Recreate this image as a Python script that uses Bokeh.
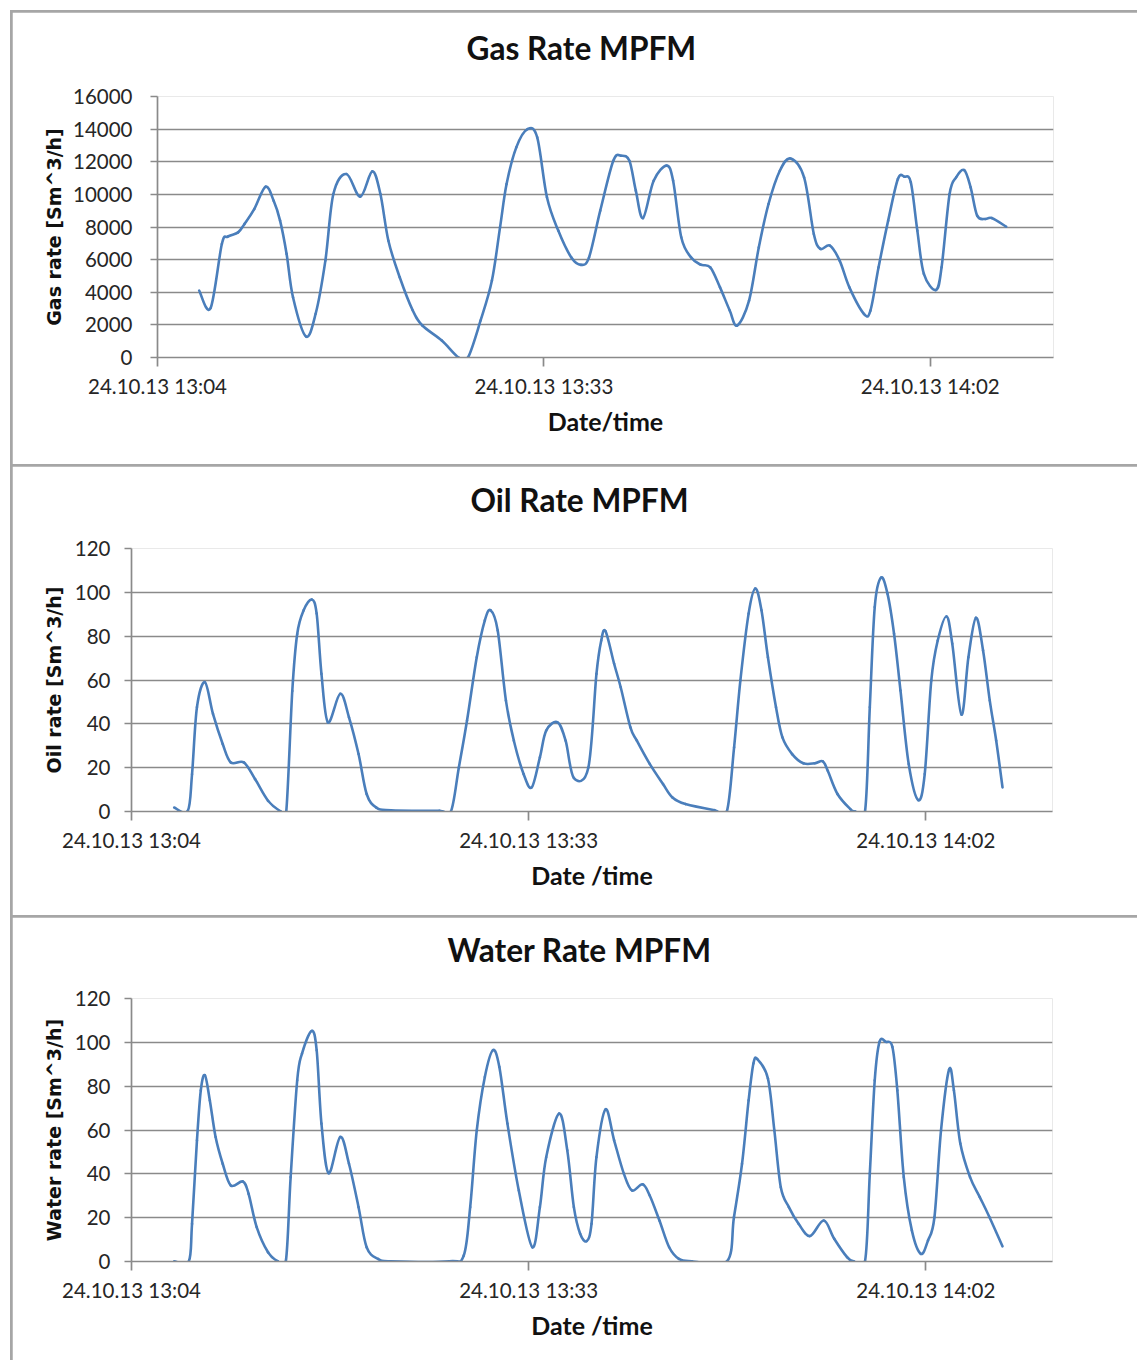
from bokeh.plotting import figure
from bokeh.layouts import column
from bokeh.models import Range1d, FixedTicker, Title
from bokeh.embed import file_html
from bokeh.resources import INLINE

# time axis: minutes after 24.10.13 13:04
x_ticks = [0, 29, 58]
x_tick_labels = ["24.10.13 13:04", "24.10.13 13:33", "24.10.13 14:02"]
x_end = 67.25

gas_t = [3.13, 3.98, 4.83, 5.27, 6.05, 6.53, 7.26, 8.11, 8.72, 9.2,
         9.69, 10.17, 11.14, 11.87, 12.6, 13.2, 14.18, 15.22, 16.12, 16.73,
         17.33, 18.18, 19.16, 19.88, 21.34, 22.6, 23.3, 24.25, 25.1, 25.71,
         26.2, 26.93, 27.77, 28.5, 29.23, 30.08, 31.05, 31.78, 32.39, 33.23,
         34.21, 34.81, 35.42, 35.9, 36.44, 37.24, 38.21, 38.7, 39.31, 40.04,
         40.77, 41.49, 42.22, 42.95, 43.5, 44.4, 45.13, 45.86, 46.71, 47.51,
         48.53, 49.26, 49.75, 50.47, 51.2, 51.93, 53.02, 53.51, 54.12, 54.84,
         55.57, 56.06, 56.54, 57.03, 57.52, 58.43, 58.85, 59.45, 59.94, 60.55,
         61.03, 61.52, 62.13, 62.61, 63.7]
gas_v = [4100, 3020, 6960, 7410, 7670, 8190, 9100, 10470, 9610, 8390,
         6350, 3690, 1290, 2680, 5940, 10020, 11250, 9860, 11410, 10020,
         7160, 4920, 2880, 1960, 1040, 0, 0, 2270, 4720, 7980,
         10630, 12880, 14000, 13490, 9820, 7780, 6140, 5680, 6140, 9000,
         12060, 12370, 12060, 10230, 8550, 10840, 11760, 10840, 7370, 6140,
         5690, 5530, 4300, 2880, 1960, 3490, 6750, 9410, 11450, 12200,
         11040, 7570, 6660, 6860, 5940, 4300, 2680, 2880, 5530, 8390,
         10940, 11080, 10740, 7780, 5130, 4140, 5530, 10020, 11040, 11490,
         10430, 8700, 8490, 8550, 8020]

oil_t = [3.12, 4.11, 4.42, 4.78, 5.36, 5.95, 6.66, 7.25, 8.2, 9.02,
         9.97, 10.91, 11.3, 11.74, 12.1, 12.57, 13.16, 13.52, 13.87, 14.34,
         15.24, 15.88, 16.58, 17.17, 17.88, 18.95, 22.49, 23.32, 23.9, 24.5,
         25.21, 25.8, 26.22, 26.74, 27.34, 27.92, 28.63, 29.22, 29.82, 30.28,
         31.11, 31.7, 32.3, 33.36, 33.95, 34.3, 34.61, 35.24, 35.72, 36.43,
         36.9, 37.84, 38.81, 39.5, 40.45, 42.58, 43.47, 44.0, 44.46, 45.06,
         45.55, 46.0, 46.47, 47.06, 47.53, 48.24, 49.06, 49.89, 50.48, 50.84,
         51.55, 52.49, 52.85, 53.56, 53.91, 54.27, 54.73, 55.2, 55.68, 56.15,
         56.75, 57.45, 57.92, 58.4, 58.87, 59.51, 59.93, 60.6, 61.11, 61.66,
         62.18, 62.67, 63.14, 63.6]
oil_v = [1.8, 0.3, 17, 47.6, 59, 44.5, 30.8, 22.4, 22.4, 14.8,
         4.9, 0, 0, 55, 81, 91.8, 96.7, 90.3, 62.8, 40.7,
         53.7, 43, 26.2, 8, 1.8, 0.6, 0.3, 0, 20, 41.5,
         70.4, 87.2, 91.8, 82.6, 50.6, 32.3, 17.1, 11, 24.7, 36.9,
         40.7, 32.3, 15.3, 20.1, 62.8, 78, 82.3, 67.4, 56.7, 38.4,
         32.3, 21.7, 12.5, 6.4, 3.4, 0.6, 0, 29.3, 59.8, 90.3,
         101.7, 91.8, 70.4, 47.6, 33.8, 26.2, 22, 22, 22.9, 18.6,
         8, 1.1, 0, 0, 47.6, 93.3, 106.7, 99.4, 81.1, 55.2,
         21.7, 5.2, 17.1, 59.8, 78, 89, 76.6, 44.2, 70.4, 88.4,
         73.5, 50.6, 32.3, 11]

water_t = [3.12, 4.18, 4.42, 4.78, 5.06, 5.36, 5.72, 6.14, 6.66, 7.25,
           8.13, 8.55, 9.14, 9.97, 10.68, 11.27, 11.62, 12.1, 12.45, 13.16,
           13.52, 13.87, 14.39, 15.24, 15.88, 16.58, 17.17, 18.0, 18.95, 23.2,
           24.26, 24.73, 25.21, 25.8, 26.39, 26.86, 27.45, 28.28, 29.27, 29.82,
           30.28, 31.23, 31.82, 32.3, 32.76, 33.24, 33.59, 33.95, 34.61, 35.24,
           35.95, 36.54, 37.32, 37.84, 38.55, 39.26, 39.97, 40.91, 43.47, 43.99,
           44.58, 45.06, 45.41, 45.7, 46.47, 46.94, 47.41, 48.0, 48.71, 49.54,
           50.55, 51.31, 52.25, 52.73, 53.56, 53.91, 54.27, 54.62, 55.09, 55.56,
           55.92, 56.39, 56.98, 57.64, 58.16, 58.63, 59.11, 59.7, 60.05, 60.52,
           61.23, 61.94, 62.65, 63.6]
water_v = [0.1, 0, 17.2, 55.3, 78.1, 85, 73.5, 56.8, 44.6, 34.7,
           36.5, 30.9, 15.7, 4.2, 0.1, 0.1, 38.5, 82.7, 94.9, 105.2,
           96.4, 62.9, 40.3, 56.8, 44.6, 24.8, 6.5, 1.2, 0.1, 0.1,
           2.7, 24.8, 59.8, 84.2, 96.4, 88.8, 62.9, 32.4, 6.5, 24.8,
           47.6, 67.5, 50.7, 24.8, 12.7, 9.3, 17.2, 47.6, 69.4, 55.3,
           40.1, 32.4, 35.2, 30.1, 18.7, 6.5, 1.2, 0.1, 0, 20.2,
           44.6, 73.5, 90.3, 92.3, 83.5, 59.8, 33.9, 24.8, 17.2, 11.6,
           18.7, 10.4, 2, 0.1, 0.1, 40.1, 82.7, 100.2, 100.2, 97.9,
           78.1, 38.5, 14.2, 3.5, 9.6, 20.2, 59.8, 87.6, 78.1, 53.8,
           38.5, 29.4, 20.2, 6.9]

gas_y_ticks = [0, 2000, 4000, 6000, 8000, 10000, 12000, 14000, 16000]
liq_y_ticks = [0, 20, 40, 60, 80, 100, 120]

GRID = "#8a8a8a"
LINE = "#4a7ebb"


def smooth_segments(t, v):
    """Excel-style smoothed line: cubic Bezier segments through the data points."""
    n = len(t)
    segs = dict(x0=[], y0=[], x1=[], y1=[], cx0=[], cy0=[], cx1=[], cy1=[])
    for i in range(n - 1):
        a = max(i - 1, 0)
        d = min(i + 2, n - 1)
        segs["x0"].append(t[i]); segs["y0"].append(v[i])
        segs["x1"].append(t[i + 1]); segs["y1"].append(v[i + 1])
        segs["cx0"].append(t[i] + (t[i + 1] - t[a]) / 6)
        segs["cy0"].append(v[i] + (v[i + 1] - v[a]) / 6)
        segs["cx1"].append(t[i + 1] - (t[d] - t[i]) / 6)
        segs["cy1"].append(v[i + 1] - (v[d] - v[i]) / 6)
    return segs


def panel(title, t, v, ylabel, xlabel, yticks, h, borders, title_offset,
          ylab_standoff, ytick_standoff, xlab_standoff):
    mt, mb, ml, mr = borders
    p = figure(width=1125, height=h, output_backend="svg", toolbar_location=None,
               x_range=Range1d(0, x_end), y_range=Range1d(yticks[0], yticks[-1]),
               min_border_top=mt, min_border_bottom=mb, min_border_left=ml,
               min_border_right=mr, margin=(2, 0, 0, 2), frame_align=False,
               background_fill_color="white", border_fill_color="white")
    p.outline_line_color = None
    p.title.text = ""
    p.title.standoff = 0

    # blank spacer panel nearest the plot area, then the chart title above it
    p.add_layout(Title(text=" ", standoff=2, text_font="Lato",
                       text_font_size="10px"), "above")
    p.add_layout(Title(text=title, align="left", offset=title_offset,
                       vertical_align="top", standoff=24,
                       text_font="Lato", text_font_style="bold",
                       text_font_size="31.6px", text_color="#111111"), "above")

    s = smooth_segments(t, v)
    p.bezier(x0=s["x0"], y0=s["y0"], x1=s["x1"], y1=s["y1"],
             cx0=s["cx0"], cy0=s["cy0"], cx1=s["cx1"], cy1=s["cy1"],
             line_color=LINE, line_width=2.6, line_cap="round")

    p.xgrid.grid_line_color = None
    p.ygrid.grid_line_color = GRID
    p.ygrid.grid_line_width = 1.7
    p.ygrid.ticker = FixedTicker(ticks=yticks)

    xa = p.below[0]
    xa.ticker = FixedTicker(ticks=x_ticks)
    xa.major_label_overrides = {k: s for k, s in zip(x_ticks, x_tick_labels)}
    xa.minor_tick_line_color = None
    xa.major_tick_in = 0
    xa.major_tick_out = 9
    xa.major_tick_line_color = GRID
    xa.major_tick_line_width = 1.7
    xa.axis_line_color = GRID
    xa.axis_line_width = 1.7
    xa.major_label_text_font = "Lato"
    xa.major_label_text_font_size = "20.5px"
    xa.major_label_text_color = "#262626"
    xa.major_label_standoff = 7
    xa.axis_label = xlabel
    xa.axis_label_text_font = "Lato"
    xa.axis_label_text_font_style = "bold"
    xa.axis_label_text_font_size = "25px"
    xa.axis_label_text_color = "#111111"
    xa.axis_label_standoff = xlab_standoff

    ya = p.yaxis[0]
    ya.ticker = FixedTicker(ticks=yticks)
    ya.minor_tick_line_color = None
    ya.major_tick_in = 0
    ya.major_tick_out = 7
    ya.major_tick_line_color = GRID
    ya.major_tick_line_width = 1.7
    ya.axis_line_color = GRID
    ya.axis_line_width = 1.7
    ya.major_label_text_font = "Lato"
    ya.major_label_text_font_size = "20.5px"
    ya.major_label_text_color = "#262626"
    ya.major_label_standoff = ytick_standoff
    ya.axis_label = ylabel
    ya.axis_label_text_font = "DejaVu Sans"
    ya.axis_label_text_font_style = "bold"
    ya.axis_label_text_font_size = "19px"
    ya.axis_label_text_color = "#111111"
    ya.axis_label_standoff = ylab_standoff
    return p


p1 = panel("Gas Rate MPFM", gas_t, gas_v, "Gas rate [Sm^3/h]", "Date/time",
           gas_y_ticks, 452, (84, 107, 145, 84), 309, 5, 18, 5)
p2 = panel("Oil Rate MPFM", oil_t, oil_v, "Oil rate [Sm^3/h]", "Date /time",
           liq_y_ticks, 449, (82, 104, 119, 85), 339, 7, 14, 5)
p3 = panel("Water Rate MPFM", water_t, water_v, "Water rate [Sm^3/h]", "Date /time",
           liq_y_ticks, 443, (81, 99, 119, 85), 316, 7, 14, 5)

layout = column(p1, p2, p3, spacing=0, margin=(10, 0, 0, 10),
                styles={"background-color": "#a6a6a6"})

open("out.html", "w").write(file_html(layout, INLINE))
